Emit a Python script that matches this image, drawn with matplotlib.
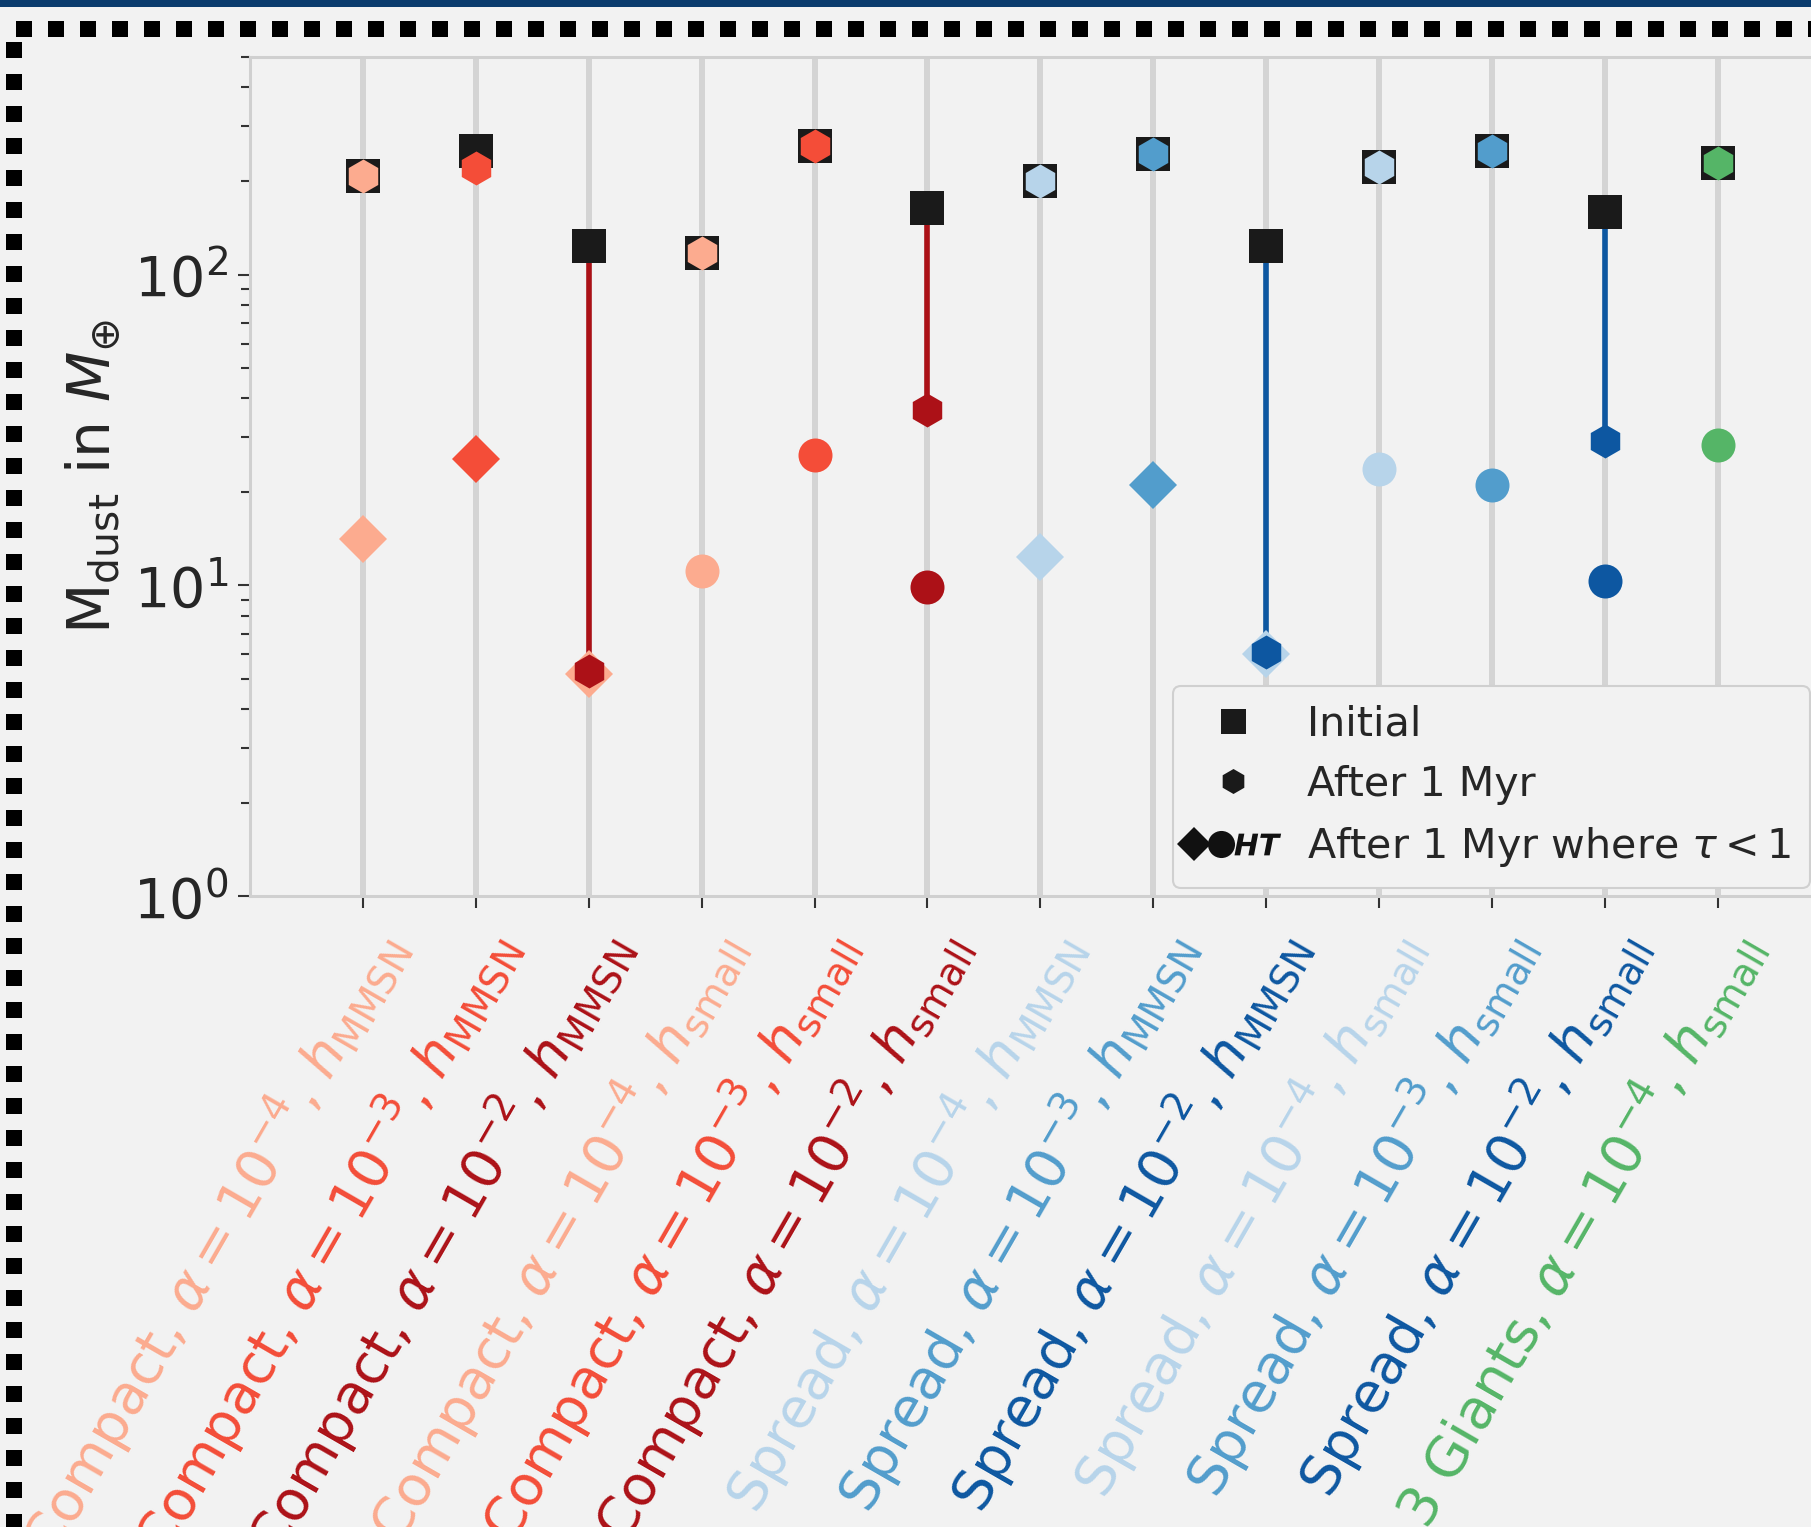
import matplotlib
matplotlib.use('Agg')
import matplotlib.pyplot as plt
import matplotlib.transforms as mtransforms
import numpy as np
from matplotlib.lines import Line2D
from matplotlib.patches import Rectangle
from matplotlib.legend_handler import HandlerBase
from matplotlib.textpath import TextPath
from matplotlib.font_manager import FontProperties
from matplotlib.path import Path

# disc setups, one column each
setups = [
    r'Compact, $\alpha = 10^{-4}$, $h_\mathrm{MMSN}$',
    r'Compact, $\alpha = 10^{-3}$, $h_\mathrm{MMSN}$',
    r'Compact, $\alpha = 10^{-2}$, $h_\mathrm{MMSN}$',
    r'Compact, $\alpha = 10^{-4}$, $h_\mathrm{small}$',
    r'Compact, $\alpha = 10^{-3}$, $h_\mathrm{small}$',
    r'Compact, $\alpha = 10^{-2}$, $h_\mathrm{small}$',
    r'Spread, $\alpha = 10^{-4}$, $h_\mathrm{MMSN}$',
    r'Spread, $\alpha = 10^{-3}$, $h_\mathrm{MMSN}$',
    r'Spread, $\alpha = 10^{-2}$, $h_\mathrm{MMSN}$',
    r'Spread, $\alpha = 10^{-4}$, $h_\mathrm{small}$',
    r'Spread, $\alpha = 10^{-3}$, $h_\mathrm{small}$',
    r'Spread, $\alpha = 10^{-2}$, $h_\mathrm{small}$',
    r'3 Giants, $\alpha = 10^{-4}$, $h_\mathrm{small}$',
]
# dust mass in Earth masses
m_initial = [207, 250, 124, 117, 259, 164, 200, 244, 124, 222, 250, 159, 229]
m_1myr = [207, 220, 5.3, 117, 259, 36.7, 200, 244, 6.1, 222, 250, 29.2, 229]
m_thin = [14.1, 25.6, 5.2, 11.1, 26.3, 9.9, 12.3, 21.1, 6.0, 23.7, 21.1, 10.3, 28.4]
scale_height = ['MMSN'] * 3 + ['small'] * 3 + ['MMSN'] * 3 + ['small'] * 4

reds = plt.cm.Reds([0.3, 0.575, 0.85])
blues = plt.cm.Blues([0.3, 0.575, 0.85])
green = plt.cm.Greens(0.575)
colors = [*reds, *reds, *blues, *blues, green]
# the tau<1 markers of the two alpha=1e-2 MMSN runs came out in the light shade
thin_colors = list(colors)
thin_colors[2] = reds[0]
thin_colors[8] = blues[0]

DPI = 100
W, H = 1811, 1527
BG = '#f2f2f2'
GRID = '#d4d4d4'
MS = 34 * 72 / DPI


class HandlerRow(HandlerBase):
    """Draw a tuple of marker handles side by side at fixed offsets (points)."""

    def __init__(self, offsets):
        super().__init__()
        self.offsets = offsets

    def create_artists(self, legend, orig_handle, xdescent, ydescent, width, height,
                       fontsize, trans):
        xc = width / 2 - xdescent
        yc = height / 2 - ydescent
        arts = []
        for h, dx in zip(orig_handle, self.offsets):
            ln = Line2D([xc + dx], [yc], marker=h.get_marker(), ls='none',
                        color=h.get_color(), ms=h.get_markersize(), mew=0,
                        transform=trans)
            arts.append(ln)
        return arts


fig = plt.figure(figsize=(W / DPI, H / DPI), dpi=DPI, facecolor=BG)
ax = fig.add_axes([250 / W, 1 - 896.3 / H, 1580.6 / W, 839 / H], facecolor=BG)

x = np.arange(len(setups))
for i in x:
    c = colors[i]
    ax.plot([i, i], [m_initial[i], m_1myr[i]], color=c, lw=4, zorder=2,
            solid_capstyle='butt')
    ax.plot(i, m_initial[i], 's', color='#1a1a1a', ms=MS, mew=0, zorder=3)
    mk = 'D' if scale_height[i] == 'MMSN' else 'o'
    ax.plot(i, m_thin[i], mk, color=thin_colors[i], ms=MS, mew=0, zorder=3.5)
    ax.plot(i, m_1myr[i], 'h', color=c, ms=MS, mew=0, zorder=4)

ax.set_yscale('log')
ax.set_ylim(1, 500)
ax.set_xlim(-1, 13)
ax.set_axisbelow(True)

ax.grid(axis='x', color=GRID, lw=4.3, ls='-')
ax.grid(axis='y', which='major', color=GRID, lw=4.3, ls=(0, (3.7, 2.0)))
for t in ax.yaxis.get_major_ticks():
    if t.get_loc() <= 1:
        t.gridline.set_visible(False)

for side in ['left', 'top', 'bottom', 'right']:
    ax.spines[side].set_color('#d0d0d0')
    ax.spines[side].set_linewidth(2.2)

ax.tick_params(axis='both', which='major', length=8.6, width=1.5, color='#333333', pad=7)
ax.tick_params(axis='y', which='major', labelsize=40, labelcolor='#262626')
ax.tick_params(axis='y', which='minor', length=6.5, width=1.5, color='#333333')

ax.set_xticks(x)
ax.set_xticklabels(setups, rotation=60, ha='right', va='center',
                   rotation_mode='anchor', fontsize=40)
shift = mtransforms.ScaledTranslation(0.28, -0.20, fig.dpi_scale_trans)
for lab, c in zip(ax.get_xticklabels(), colors):
    lab.set_color(c)
    lab.set_transform(lab.get_transform() + shift)

ax.set_ylabel(r'$\mathrm{M_{dust}}$ in $M_{\oplus}$', fontsize=42, color='#262626',
              labelpad=7)

# legend: composite handle for the optically thin markers
ht = TextPath((0, 0), 'HT', prop=FontProperties(family='DejaVu Sans', weight='bold',
                                                style='italic'))
v = ht.vertices.copy()
v -= (v.min(axis=0) + v.max(axis=0)) / 2
ht_marker = Path(v, ht.codes)

LMS = 25 * 72 / DPI
h_init = Line2D([], [], marker='s', ls='none', color='#1a1a1a', ms=LMS, mew=0)
h_myr = Line2D([], [], marker='h', ls='none', color='#1a1a1a', ms=LMS, mew=0)
h_d = Line2D([], [], marker='D', ls='none', color='#111111', ms=17, mew=0)
h_o = Line2D([], [], marker='o', ls='none', color='#111111', ms=19.5, mew=0)
h_ht = Line2D([], [], marker=ht_marker, ls='none', color='#111111', ms=34, mew=0)

to_pt = 72 / DPI
leg = ax.legend([h_init, h_myr, (h_d, h_o, h_ht)],
                ['Initial', 'After 1 Myr', r'After 1 Myr where $\tau < 1$'],
                handler_map={tuple: HandlerRow([-39 * to_pt, -12 * to_pt, 24 * to_pt])},
                loc='lower right', bbox_to_anchor=(1810 / W, 1 - 888 / H),
                bbox_transform=fig.transFigure, borderaxespad=0,
                fontsize=29.7, handlelength=2.0, handletextpad=0.8,
                borderpad=0.45, labelspacing=0.5, frameon=True, fancybox=True,
                facecolor=BG, edgecolor='#d0d0d0', framealpha=1, labelcolor='#262626')
leg.get_frame().set_linewidth(1.5)

# page decorations: header bar and dotted frame
fig.add_artist(Rectangle((0, 1 - 7 / H), 1, 7 / H, transform=fig.transFigure,
                         color='#0b3c6e', lw=0))
dot = dict(color='black', lw=16 * 72 / DPI, ls=(0, (1, 1)), dash_capstyle='butt',
           transform=fig.transFigure)
fig.add_artist(Line2D([16 / W, 1.0], [1 - 29 / H] * 2, **dot))
fig.add_artist(Line2D([13.5 / W] * 2, [1 - 42 / H, 0.0], **dot))

fig.savefig('out.png', dpi=DPI, facecolor=BG)
